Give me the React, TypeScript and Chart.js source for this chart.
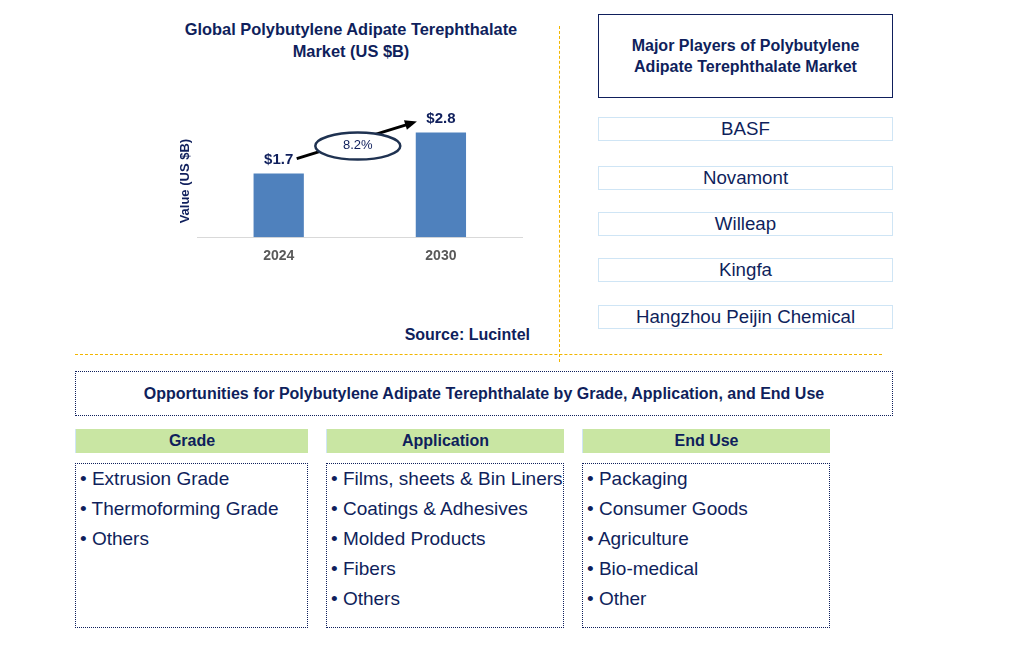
import React, { useEffect, useRef } from "react";
import { Chart, registerables } from "chart.js";

Chart.register(...registerables);

const years = ["2024", "2030"];
const marketValues = [1.7, 2.8];
const valueLabels = ["$1.7", "$2.8"];
const cagrLabel = "8.2%";
const chartTitle = ["Global Polybutylene Adipate Terephthalate", "Market (US $B)"];
const yAxisTitle = "Value (US $B)";
const sourceText = "Source: Lucintel";
const playersTitle = ["Major Players of Polybutylene", "Adipate Terephthalate Market"];
const players = ["BASF", "Novamont", "Willeap", "Kingfa", "Hangzhou Peijin Chemical"];
const opportunitiesTitle =
  "Opportunities for Polybutylene Adipate Terephthalate by Grade, Application, and End Use";
const segmentTitles = ["Grade", "Application", "End Use"];
const gradeItems = ["Extrusion Grade", "Thermoforming Grade", "Others"];
const applicationItems = [
  "Films, sheets & Bin Liners",
  "Coatings & Adhesives",
  "Molded Products",
  "Fibers",
  "Others",
];
const endUseItems = ["Packaging", "Consumer Goods", "Agriculture", "Bio-medical", "Other"];

const FONT = "'Liberation Sans', Arial, Helvetica, sans-serif";
const NAVY = "#0f1f5c";

const labelPlugin = {
  id: "valueLabelsAndCagr",
  afterDatasetsDraw(chart: any) {
    const ctx = chart.ctx;
    const meta = chart.getDatasetMeta(0);
    const bars = meta.data;
    ctx.save();
    // value labels
    ctx.font = `bold 15px ${FONT}`;
    ctx.fillStyle = NAVY;
    ctx.textAlign = "center";
    ctx.textBaseline = "middle";
    bars.forEach((b: any, i: number) => {
      ctx.fillText(valueLabels[i], b.x, b.y - 14);
    });
    // CAGR arrow
    const b0 = bars[0];
    const b1 = bars[1];
    const sx = b0.x + 18;
    const sy = b0.y - 15;
    const ex = b1.x - 24;
    const ey = b1.y - 11;
    const ang = Math.atan2(ey - sy, ex - sx);
    const headLen = 12;
    ctx.strokeStyle = "#000000";
    ctx.fillStyle = "#000000";
    ctx.lineWidth = 3;
    ctx.beginPath();
    ctx.moveTo(sx, sy);
    ctx.lineTo(ex - Math.cos(ang) * headLen * 0.8, ey - Math.sin(ang) * headLen * 0.8);
    ctx.stroke();
    ctx.beginPath();
    ctx.moveTo(ex, ey);
    ctx.lineTo(
      ex - headLen * Math.cos(ang) + 5 * Math.sin(ang),
      ey - headLen * Math.sin(ang) - 5 * Math.cos(ang)
    );
    ctx.lineTo(
      ex - headLen * Math.cos(ang) - 5 * Math.sin(ang),
      ey - headLen * Math.sin(ang) + 5 * Math.cos(ang)
    );
    ctx.closePath();
    ctx.fill();
    // ellipse
    const cx = (sx + ex) / 2 + 1;
    const cy = (sy + ey) / 2 + 6;
    ctx.beginPath();
    ctx.ellipse(cx, cy, 42.5, 13.5, 0, 0, Math.PI * 2);
    ctx.fillStyle = "#ffffff";
    ctx.fill();
    ctx.lineWidth = 2.5;
    ctx.strokeStyle = "#1f3251";
    ctx.stroke();
    ctx.fillStyle = NAVY;
    ctx.font = `13px ${FONT}`;
    ctx.fillText(cagrLabel, cx, cy - 1);
    ctx.restore();
  },
};

function BarChart() {
  const ref = useRef<HTMLCanvasElement | null>(null);
  useEffect(() => {
    if (!ref.current) return;
    Chart.defaults.font.family = FONT;
    const chart = new Chart(ref.current, {
      type: "bar",
      data: {
        labels: years,
        datasets: [
          {
            data: marketValues,
            backgroundColor: "#4F81BD",
            categoryPercentage: 0.62,
            barPercentage: 0.5,
          },
        ],
      },
      options: {
        animation: false,
        responsive: false,
        maintainAspectRatio: false,
        layout: { padding: { left: 4, right: 8, top: 30, bottom: 6 } },
        plugins: {
          legend: { display: false },
          tooltip: { enabled: false },
          title: { display: false },
        },
        scales: {
          x: {
            grid: { display: false, drawTicks: false },
            border: { display: true, color: "#d9d9d9", width: 1 },
            ticks: {
              color: "#595959",
              font: { size: 14, weight: "bold", family: FONT },
              padding: 11,
            },
          },
          y: {
            min: 0,
            max: 3,
            grid: { display: false, drawTicks: false },
            border: { display: false },
            ticks: { display: false },
            title: {
              display: true,
              text: yAxisTitle,
              color: NAVY,
              font: { size: 13, weight: "bold", family: FONT },
              padding: { top: 4, bottom: 4 },
            },
          },
        },
      },
      plugins: [labelPlugin],
    });
    return () => chart.destroy();
  }, []);
  return (
    <canvas
      ref={ref}
      width={360}
      height={187}
      style={{ position: "absolute", left: 170, top: 95, width: 360, height: 187 }}
    />
  );
}

const abs = (l: number, t: number, w: number, h: number): React.CSSProperties => ({
  position: "absolute",
  left: l,
  top: t,
  width: w,
  height: h,
  boxSizing: "border-box",
});

function ListBox({ left, width, items }: { left: number; width: number; items: string[] }) {
  return (
    <div
      style={{
        ...abs(left, 463, width, 165),
        border: `1px dotted ${NAVY}`,
        paddingLeft: 4,
        fontSize: 19,
        lineHeight: "30px",
        color: NAVY,
        whiteSpace: "nowrap",
      }}
    >
      {items.map((t) => (
        <div key={t}>{"\u2022 " + t}</div>
      ))}
    </div>
  );
}

export default function App() {
  const segLefts = [75, 326, 582];
  const segWidths = [233, 238, 248];
  const segItems = [gradeItems, applicationItems, endUseItems];
  return (
    <div
      style={{
        position: "fixed",
        left: 0,
        top: 0,
        width: 1021,
        height: 648,
        background: "#ffffff",
        fontFamily: FONT,
        overflow: "hidden",
      }}
    >
      {/* chart title */}
      <div
        style={{
          ...abs(150, 18, 402, 46),
          textAlign: "center",
          fontWeight: "bold",
          fontSize: 16.4,
          lineHeight: "22px",
          color: NAVY,
        }}
      >
        {chartTitle.map((t) => (
          <div key={t}>{t}</div>
        ))}
      </div>
      <BarChart />
      <div
        style={{
          ...abs(370, 325, 160, 20),
          textAlign: "right",
          fontWeight: "bold",
          fontSize: 16,
          lineHeight: "20px",
          color: NAVY,
        }}
      >
        {sourceText}
      </div>
      {/* dividers */}
      <div style={{ ...abs(559, 26, 1, 336), borderLeft: "1px dashed #f2b600" }} />
      <div style={{ ...abs(75, 354, 807, 1), borderTop: "1px dashed #f2b600" }} />
      {/* players */}
      <div
        style={{
          ...abs(598, 14, 295, 84),
          border: `1.5px solid ${NAVY}`,
          display: "flex",
          flexDirection: "column",
          justifyContent: "center",
          alignItems: "center",
          fontWeight: "bold",
          fontSize: 16,
          lineHeight: "21px",
          color: NAVY,
        }}
      >
        {playersTitle.map((t) => (
          <div key={t}>{t}</div>
        ))}
      </div>
      {players.map((p, i) => {
        const tops = [117, 166, 212, 258, 305];
        return (
          <div
            key={p}
            style={{
              ...abs(598, tops[i], 295, 24),
              border: "1.5px solid #cfe5f5",
              textAlign: "center",
              fontSize: 18.7,
              lineHeight: "22px",
              color: NAVY,
            }}
          >
            {p}
          </div>
        );
      })}
      {/* opportunities */}
      <div
        style={{
          ...abs(75, 371, 818, 45),
          border: `1.5px dotted ${NAVY}`,
          display: "flex",
          alignItems: "center",
          justifyContent: "center",
          fontWeight: "bold",
          fontSize: 16,
          color: NAVY,
          whiteSpace: "nowrap",
        }}
      >
        {opportunitiesTitle}
      </div>
      {segmentTitles.map((s, i) => (
        <div
          key={s}
          style={{
            ...abs(segLefts[i], 429, segWidths[i], 24),
            background: "#c9e6a3",
            borderLeft: "1px solid #cfe5f5",
            textAlign: "center",
            fontWeight: "bold",
            fontSize: 16,
            lineHeight: "24px",
            color: NAVY,
          }}
        >
          {s}
        </div>
      ))}
      {segItems.map((items, i) => (
        <ListBox key={i} left={segLefts[i]} width={segWidths[i]} items={items} />
      ))}
    </div>
  );
}
